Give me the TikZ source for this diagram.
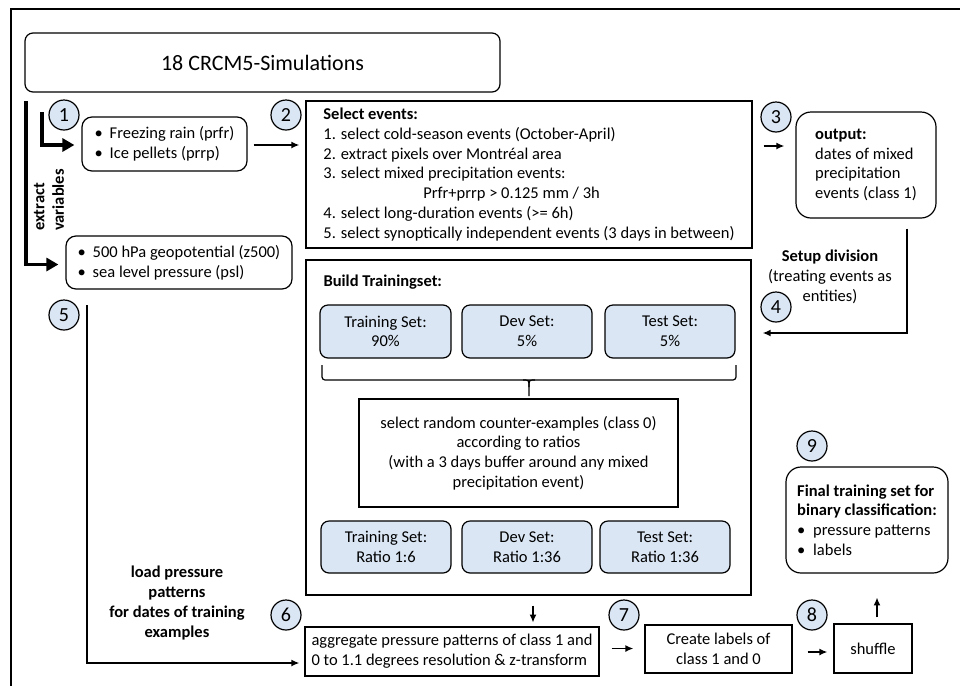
\documentclass[tikz,border=0pt]{standalone}
\usepackage{fontspec}
\setmainfont{Carlito}
\usetikzlibrary{arrows.meta}

\definecolor{stepblue}{RGB}{218,230,244}

\tikzset{
  box/.style={draw, line width=1.2pt, inner sep=0pt, align=left,
    font=\fontsize{16.5}{19.7}\selectfont},
  rbox/.style={box, rounded corners=10pt},
  setbox/.style={box, rounded corners=8pt, fill=stepblue, align=center},
  num/.style={circle, draw, line width=1.2pt, fill=stepblue, minimum size=30pt,
    inner sep=0pt, font=\fontsize{20}{20}\selectfont},
  arr/.style={line width=1.8pt, -{Latex[length=8pt,width=7pt]}},
  bigarr/.style={line width=3.2pt, -{Triangle[length=12pt,width=13pt]}},
  lbl/.style={font=\fontsize{16.5}{19.7}\selectfont, align=center}
}

\newcommand{\bul}[1]{\makebox[#1][l]{\textbullet}}

\begin{document}
\begin{tikzpicture}[x=1pt, y=-1pt]
  \useasboundingbox (0, 0) rectangle (960, 686);
  % outer frame (cut off at right and bottom)
  \draw[line width=1.3pt] (11, 686) -- (11, 9) -- (960, 9);

  \node[box, rounded corners=8pt, minimum width=475pt, minimum height=59pt,
    font=\fontsize{22}{22}\selectfont] (sims) at (262.5, 62.5) {18 CRCM5-Simulations};

  % input variables
  \node[rbox, minimum width=165pt, minimum height=54pt] (prec) at (164.5, 144)
    {\bul{15pt}Freezing rain (prfr)\\ \bul{15pt}Ice pellets (prrp)};
  \node[rbox, minimum width=226pt, minimum height=53pt] (pres) at (179, 262.5)
    {\bul{15pt}500 hPa geopotential (z500)\\ \bul{15pt}sea level pressure (psl)};

  \node[box, minimum width=446pt, minimum height=147pt] (select) at (529, 174.5)
    {\textbf{Select events:}\\
     1. select cold-season events (October-April)\\
     2. extract pixels over Montréal area\\
     3. select mixed precipitation events:\\
     \hspace*{100pt}Prfr+prrp > 0.125 mm / 3h\\
     4. select long-duration events (>= 6h)\\
     5. select synoptically independent events (3 days in between)};

  \node[box, rounded corners=15pt, minimum width=140pt, minimum height=106pt] (output) at (866, 165)
    {\textbf{output:}\\ dates of mixed\\ precipitation\\ events (class 1)};

  % training set
  \node[box, minimum width=445pt, minimum height=335pt] (build) at (528.5, 427.5) {};
  \node[lbl, anchor=west] (buildL) at (320, 282) {\textbf{Build Trainingset:}};

  \node[setbox, minimum width=131pt, minimum height=53pt] (trainA) at (385.5, 331.5) {Training Set:\\ 90\%};
  \node[setbox, minimum width=130pt, minimum height=53pt] (devA) at (527, 331.5) {Dev Set:\\ 5\%};
  \node[setbox, minimum width=130pt, minimum height=53pt] (testA) at (670, 331.5) {Test Set:\\ 5\%};

  \draw[line width=1.2pt, rounded corners=3pt] (322, 365) -- (322, 380) -- (736, 380) -- (736, 365);
  \draw[line width=1.2pt] (523, 380) .. controls (529, 380) .. (529, 387) -- (529, 396);
  \draw[line width=1.2pt] (535, 380) .. controls (529, 380) .. (529, 387);

  \node[box, align=center, minimum width=319pt, minimum height=108pt] (random) at (518.5, 453)
    {select random counter-examples (class 0)\\ according to ratios\\
     (with a 3 days buffer around any mixed\\ precipitation event)};

  \node[setbox, minimum width=130pt, minimum height=52pt] (trainB) at (386, 547) {Training Set:\\ Ratio 1:6};
  \node[setbox, minimum width=130pt, minimum height=52pt] (devB) at (527, 547) {Dev Set:\\ Ratio 1:36};
  \node[setbox, minimum width=130pt, minimum height=52pt] (testB) at (665, 547) {Test Set:\\ Ratio 1:36};

  % bottom row
  \node[box, minimum width=294pt, minimum height=49pt] (aggr) at (452, 651.5)
    {aggregate pressure patterns of class 1 and\\ 0 to 1.1 degrees resolution \& z-transform};
  \node[box, align=center, minimum width=147pt, minimum height=48pt] (labels) at (718.5, 649)
    {Create labels of\\ class 1 and 0};
  \node[box, minimum width=78pt, minimum height=49pt] (shuffle) at (873, 648.5) {shuffle};
  \node[box, rounded corners=15pt, minimum width=162pt, minimum height=106pt] (final) at (867, 520)
    {\textbf{Final training set for}\\ \textbf{binary classification:}\\
     \bul{16pt}pressure patterns\\ \bul{16pt}labels};

  % step numbers
  \node[num] (n1) at (64, 115) {1};
  \node[num] (n2) at (286, 115) {2};
  \node[num] (n3) at (776, 117) {3};
  \node[num] (n4) at (776, 307) {4};
  \node[num] (n5) at (64, 315) {5};
  \node[num] (n6) at (286, 615) {6};
  \node[num] (n7) at (624, 615) {7};
  \node[num] (n8) at (812, 615) {8};
  \node[num] (n9) at (812, 446) {9};

  % labels on the connectors
  \node[lbl, rotate=90, align=left] (extr) at (49, 200) {\textbf{extract}\\ \textbf{variables}};
  \node[lbl] (setup) at (830, 277) {\textbf{Setup division}\\ (treating events as\\ entities)};
  \node[lbl] (load) at (177, 603) {\textbf{load pressure}\\ \textbf{patterns}\\
    \textbf{for dates of training}\\ \textbf{examples}};

  % connectors
  \coordinate (xa) at (26, 101);
  \coordinate (xb) at (42, 112);
  \coordinate (s5) at (87, 305);
  \draw[bigarr] (xa) |- ([xshift=-7pt, yshift=-2pt]pres.west);
  \draw[bigarr] (xb) |- ([xshift=-7pt, yshift=-1pt]prec.west);
  \draw[arr] ([xshift=6pt, yshift=-1pt]prec.east) -- ([xshift=-6pt, yshift=-1pt]prec.east -| select.west);
  \draw[arr] ([xshift=11pt, yshift=28.5pt]select.east) -- ([xshift=-11pt, yshift=28.5pt]select.east -| output.west);
  \draw[arr] ([xshift=41pt, yshift=-10pt]output.south) |- ([xshift=11pt, yshift=94.5pt]build.east);
  \draw[arr] (s5) |- ([xshift=-5pt, yshift=-11.5pt]aggr.west);
  \draw[arr] ([xshift=4.5pt, yshift=-10pt]build.south) -- ([xshift=4.5pt, yshift=-27pt]build.south);
  \draw[arr] ([xshift=12pt, yshift=3pt]aggr.east) -- ([xshift=-11pt, yshift=3pt]aggr.east -| labels.west);
  \draw[arr] ([xshift=15pt, yshift=-3pt]labels.east) -- ([xshift=-6pt, yshift=-3pt]labels.east -| shuffle.west);
  \draw[arr] ([xshift=4pt, yshift=6pt]shuffle.north) -- ([xshift=4pt, yshift=26pt]shuffle.north);
\end{tikzpicture}
\end{document}
